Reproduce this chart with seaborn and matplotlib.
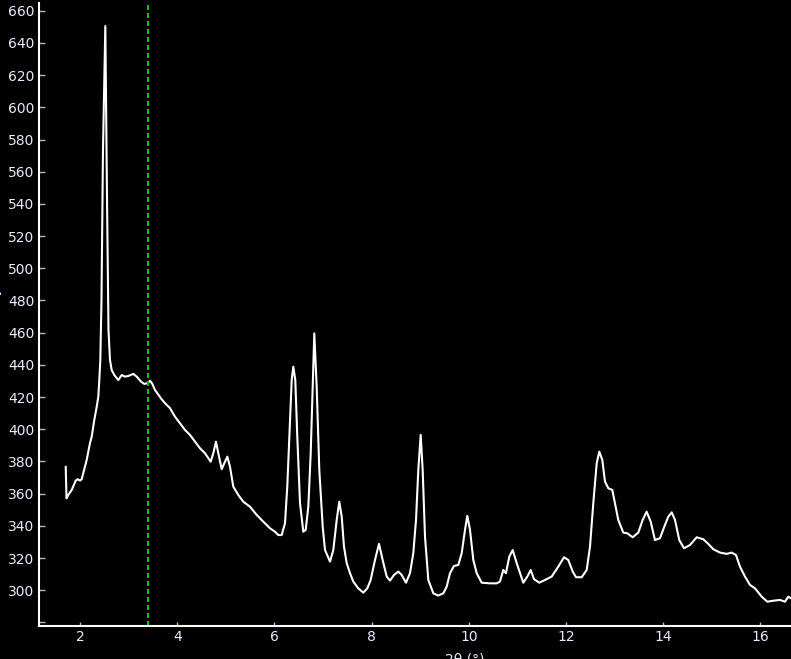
import numpy as np
import pandas as pd
import matplotlib
matplotlib.use('Agg')
import matplotlib.pyplot as plt
import seaborn as sns

# diffraction scan (2-theta in degrees, intensity)
two_theta = [
    1.706, 1.722, 1.759, 1.829, 1.912, 1.953, 2.000, 2.035, 2.068, 2.138,
    2.206, 2.241, 2.294, 2.344, 2.377, 2.397, 2.418, 2.442, 2.473, 2.521,
    2.556, 2.586, 2.617, 2.652, 2.706, 2.788, 2.858, 2.926, 2.994, 3.097,
    3.167, 3.255, 3.323, 3.393, 3.440, 3.488, 3.543, 3.681, 3.749, 3.852,
    3.955, 4.058, 4.160, 4.263, 4.366, 4.469, 4.572, 4.689, 4.743, 4.798,
    4.846, 4.916, 4.969, 5.031, 5.086, 5.154, 5.257, 5.360, 5.498, 5.636,
    5.772, 5.909, 6.012, 6.080, 6.150, 6.218, 6.265, 6.307, 6.356, 6.389,
    6.430, 6.471, 6.527, 6.595, 6.644, 6.698, 6.747, 6.788, 6.821, 6.870,
    6.924, 6.994, 7.041, 7.144, 7.212, 7.282, 7.335, 7.385, 7.432, 7.488,
    7.556, 7.623, 7.726, 7.829, 7.911, 7.981, 8.070, 8.152, 8.228, 8.311,
    8.379, 8.461, 8.549, 8.619, 8.708, 8.790, 8.858, 8.914, 8.961, 9.010,
    9.051, 9.099, 9.167, 9.270, 9.372, 9.475, 9.545, 9.613, 9.695, 9.784,
    9.854, 9.922, 9.969, 10.025, 10.093, 10.163, 10.265, 10.436, 10.574, 10.642,
    10.710, 10.765, 10.833, 10.903, 10.986, 11.121, 11.204, 11.274, 11.342, 11.451,
    11.568, 11.706, 11.842, 11.959, 12.047, 12.138, 12.206, 12.323, 12.426, 12.494,
    12.562, 12.632, 12.685, 12.747, 12.802, 12.870, 12.953, 13.008, 13.076, 13.179,
    13.261, 13.372, 13.488, 13.578, 13.660, 13.743, 13.831, 13.934, 14.023, 14.105,
    14.175, 14.243, 14.331, 14.428, 14.551, 14.689, 14.825, 14.928, 15.031, 15.169,
    15.307, 15.409, 15.498, 15.580, 15.683, 15.786, 15.889, 16.027, 16.142, 16.265,
    16.403, 16.506, 16.574, 16.630,
]
intensity = [
    376.8, 357.1, 359.2, 362.3, 368.1, 369.0, 368.1, 369.0, 372.9, 381.0,
    391.5, 395.4, 405.8, 414.0, 420.3, 430.6, 443.0, 480.3, 573.5, 650.5,
    542.4, 461.7, 443.0, 436.8, 433.7, 430.6, 433.7, 432.7, 433.1, 434.4,
    432.7, 429.6, 428.2, 428.6, 430.2, 428.2, 424.4, 418.6, 416.2, 413.1,
    407.8, 403.7, 399.6, 396.5, 392.3, 388.2, 385.1, 379.9, 385.1, 392.3,
    385.1, 375.2, 378.9, 383.0, 376.8, 364.4, 359.2, 355.0, 351.9, 346.8,
    342.6, 338.5, 336.4, 334.3, 334.3, 341.6, 364.4, 395.4, 430.6, 438.9,
    430.6, 395.4, 354.1, 336.4, 337.5, 352.0, 385.1, 426.5, 459.6, 426.5,
    374.7, 339.5, 325.0, 317.8, 325.0, 343.7, 355.0, 345.7, 327.1, 316.8,
    310.6, 305.4, 301.2, 298.5, 301.2, 306.4, 318.8, 328.8, 318.8, 308.5,
    306.0, 309.5, 311.6, 309.5, 304.7, 310.6, 323.0, 343.7, 374.7, 396.5,
    374.7, 333.3, 306.4, 298.1, 296.7, 298.1, 302.2, 310.6, 315.1, 315.7,
    323.0, 337.5, 346.2, 337.5, 318.8, 310.6, 304.7, 304.3, 304.3, 305.4,
    312.6, 310.6, 320.9, 325.0, 316.8, 304.7, 308.5, 312.6, 306.9, 304.7,
    306.4, 308.5, 314.7, 320.5, 318.8, 311.6, 308.1, 308.1, 312.6, 327.1,
    354.1, 378.9, 386.1, 381.0, 367.5, 363.4, 362.3, 354.1, 343.7, 335.8,
    335.4, 332.9, 335.8, 343.7, 348.8, 342.6, 331.2, 332.3, 339.5, 345.7,
    348.4, 343.7, 331.2, 326.1, 328.1, 332.9, 331.7, 328.8, 325.5, 323.4,
    322.6, 323.4, 321.9, 314.7, 308.5, 303.3, 301.2, 296.0, 292.9, 293.5,
    294.0, 292.9, 296.0, 295.0,
]
marker_pos = 3.40
x_ticks = [2, 4, 6, 8, 10, 12, 14, 16]
y_ticks = list(range(280, 661, 20))

scan = pd.DataFrame({'two_theta': two_theta, 'intensity': intensity})

sns.set_theme(style='dark', rc={
    'axes.facecolor': 'black',
    'figure.facecolor': 'black',
    'axes.edgecolor': 'white',
    'axes.grid': False,
})
plt.rcParams['font.family'] = ['DejaVu Sans']

fig = plt.figure(figsize=(7.91, 6.59), dpi=100)
ax = fig.add_axes([38.5 / 791, 33 / 659, 752.5 / 791, 623 / 659])

sns.lineplot(data=scan, x='two_theta', y='intensity', sort=False,
             color='white', linewidth=1.5, ax=ax)
ax.axvline(marker_pos, color='#00c000', linewidth=1.44,
           linestyle=(0, (2.5, 1.5)))

ax.set_xlim(1.146, 16.63)
ax.set_ylim(277.8, 664.8)

ax.set_xticks(x_ticks)
ax.set_yticks(y_ticks)
ax.set_yticklabels([''] + [str(v) for v in y_ticks[1:]])

label_col = '#e6ecff'
ax.tick_params(axis='both', direction='in', colors='#bbbbbb',
               labelcolor=label_col, labelsize=10, pad=3, width=1)
ax.tick_params(axis='y', length=4, left=True)
ax.tick_params(axis='x', length=3, bottom=True)

for side in ['top', 'right']:
    ax.spines[side].set_visible(False)
for side in ['left', 'bottom']:
    ax.spines[side].set_color('white')
    ax.spines[side].set_linewidth(1.5)

ax.set_xlabel('2θ (°)', color=label_col, fontsize=10)
ax.xaxis.set_label_coords(0.567, -0.043)
ax.set_ylabel('Intensity', color=label_col, fontsize=10)
ax.yaxis.set_label_coords(-0.0498, 0.5)

fig.savefig('out.png', dpi=100, facecolor='black')
